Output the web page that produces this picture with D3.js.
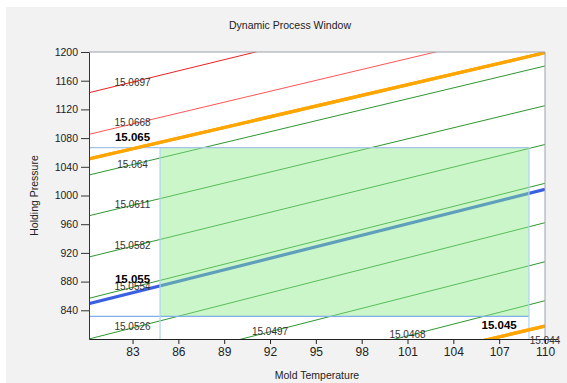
<!DOCTYPE html>
<html><head><meta charset="utf-8">
<script src="https://cdn.jsdelivr.net/npm/d3@7"></script>
<style>body{margin:0;background:#fff}svg{display:block}text{font-family:"Liberation Sans",Arial,sans-serif}</style>
</head><body>
<script>
// ---- data ----
const title = "Dynamic Process Window";
const xTitle = "Mold Temperature";
const yTitle = "Holding Pressure";
const xDomain = [80.15, 110];
const yDomain = [800, 1200];
const xTicks = [83, 86, 89, 92, 95, 98, 101, 104, 107, 110];
const yTicks = [840, 880, 920, 960, 1000, 1040, 1080, 1120, 1160, 1200];
// contour lines: label, pressure at T=80, pressure at T=110, kind
const lineLabels = ["15.0697","15.0668","15.065","15.064","15.0611","15.0582","15.0554","15.055","15.0526","15.0497","15.0468","15.045","15.044"];
const lineP80   = [1142.5, 1084.5, 1050.2, 1027.8, 971.0, 913.5, 855.9, 848.4, 799.2, 745.0, 690.0, 667.2, 648.0];
const lineP110  = [1298.5, 1236.3, 1199.0, 1180.5, 1125.2, 1071.1, 1017.0, 1008.6, 962.1, 907.7, 853.4, 818.1, 798.0];
const lineKind  = ["red","red2","limit","ok","ok","ok","ok","target","ok","ok","ok","limit","red"];
// label anchors (data units)
const labelT = [83, 83, 83, 83, 83, 83, 83, 83, 83, 92, 101, 107, 110];
const labelP = [1158.2, 1101.5, 1082.0, 1043.9, 988.2, 930.6, 873.9, 884.1, 817.1, 810.2, 806.0, 819.5, 798.6];
const labelBold = [false,false,true,false,false,false,false,true,false,false,false,true,false];
// process window rectangle
const windowT = [84.8, 108.95];
const windowP = [831.6, 1066.6];

// ---- drawing ----
const W = 567, H = 383;
const L = 89, R = 545, T = 52, B = 339;
const svg = d3.select("body").append("svg").attr("width", W).attr("height", H);
svg.append("rect").attr("x", 6).attr("y", 7).attr("width", W - 6).attr("height", H - 7).attr("fill", "#f2f2f2");

const x = d3.scaleLinear().domain(xDomain).range([L, R]);
const y = d3.scaleLinear().domain(yDomain).range([B, T]);

svg.append("rect").attr("x", L).attr("y", T).attr("width", R - L).attr("height", B - T).attr("fill", "#fff");
svg.append("clipPath").attr("id", "clip").append("rect").attr("x", L).attr("y", T).attr("width", R - L).attr("height", B - T);

const plot = svg.append("g").attr("clip-path", "url(#clip)");
const styles = {
  red:   {c: "#ee2020", w: 1},
  red2:  {c: "#ff5555", w: 1},
  limit: {c: "#ffa500", w: 3.2},
  ok:    {c: "#2f962f", w: 1},
  target:{c: "#3a5fe0", w: 3.2}
};
const lines = lineLabels.map((l, i) => ({l, p0: lineP80[i], p1: lineP110[i], k: lineKind[i]}));
plot.selectAll("line.c").data(lines).join("line").attr("class", "c")
  .attr("x1", x(80)).attr("x2", x(110))
  .attr("y1", d => y(d.p0)).attr("y2", d => y(d.p1))
  .attr("stroke", d => styles[d.k].c).attr("stroke-width", d => styles[d.k].w);

// window rect
plot.append("rect")
  .attr("x", x(windowT[0])).attr("y", y(windowP[1]))
  .attr("width", x(windowT[1]) - x(windowT[0])).attr("height", y(windowP[0]) - y(windowP[1]))
  .attr("fill", "rgb(140,236,140)").attr("fill-opacity", 0.46);
// window guide lines
plot.append("line").attr("x1", x(xDomain[0])).attr("x2", x(windowT[1])).attr("y1", y(windowP[1])).attr("y2", y(windowP[1]))
  .attr("stroke", "#a6c4e6").attr("stroke-width", 1.2);
plot.append("line").attr("x1", x(xDomain[0])).attr("x2", x(windowT[1])).attr("y1", y(windowP[0])).attr("y2", y(windowP[0]))
  .attr("stroke", "#80b0e6").attr("stroke-width", 1.2);
windowT.forEach(t => plot.append("line").attr("x1", x(t)).attr("x2", x(t)).attr("y1", y(windowP[1])).attr("y2", y(yDomain[0]))
  .attr("stroke", "#acd4ee").attr("stroke-width", 1.2));

// limit lines on top of guide lines
plot.selectAll("line.lim").data(lines.filter(d => d.k === "limit")).join("line").attr("class", "lim")
  .attr("x1", x(80)).attr("x2", x(110))
  .attr("y1", d => y(d.p0)).attr("y2", d => y(d.p1))
  .attr("stroke", styles.limit.c).attr("stroke-width", styles.limit.w);

// border
svg.append("path").attr("d", `M${L},${T}H${R}V${B}`).attr("fill", "none").attr("stroke", "#9aa0a8").attr("stroke-width", 1);

// axes
const ya = svg.append("g").attr("transform", `translate(${L},0)`)
  .call(d3.axisLeft(y).tickValues(yTicks).tickFormat(d3.format("d")).tickSize(8).tickSizeOuter(0).tickPadding(3));
ya.selectAll("text").attr("font-size", 10.5).attr("fill", "#222").attr("font-family", "Liberation Sans, Arial, sans-serif");
ya.selectAll("line,path").attr("stroke", "#333");
const xa = svg.append("g").attr("transform", `translate(0,${B})`)
  .call(d3.axisBottom(x).tickValues(xTicks).tickFormat(d3.format("d")).tickSize(5).tickSizeOuter(0).tickPadding(3));
xa.selectAll("text").attr("font-size", 12).attr("fill", "#222").attr("font-family", "Liberation Sans, Arial, sans-serif");
xa.selectAll("line,path").attr("stroke", "#222");
svg.append("line").attr("x1", R).attr("x2", 558).attr("y1", B + 0.5).attr("y2", B + 0.5).attr("stroke", "#222");

// contour labels
const labs = lineLabels.map((l, i) => ({l, t: labelT[i], p: labelP[i], b: labelBold[i]}));
svg.selectAll("text.lab").data(labs).join("text").attr("class", "lab")
  .attr("x", d => x(d.t)).attr("y", d => y(d.p)).attr("dy", "0.36em")
  .attr("text-anchor", "middle")
  .attr("font-size", d => d.b ? 11.5 : 10)
  .attr("font-weight", d => d.b ? "bold" : "normal")
  .attr("fill", d => d.b ? "#000" : "#333")
  .text(d => d.l);

// titles
svg.append("text").attr("x", 290).attr("y", 25).attr("dy", "0.35em").attr("text-anchor", "middle")
  .attr("font-size", 10.5).attr("fill", "#222").text(title);
svg.append("text").attr("x", (L + R) / 2).attr("y", 375).attr("dy", "0.35em").attr("text-anchor", "middle")
  .attr("font-size", 10.5).attr("fill", "#222").text(xTitle);
svg.append("text").attr("transform", `translate(34,${(T + B) / 2}) rotate(-90)`).attr("dy", "0.35em").attr("text-anchor", "middle")
  .attr("font-size", 10.5).attr("fill", "#222").text(yTitle);
</script>
</body></html>
